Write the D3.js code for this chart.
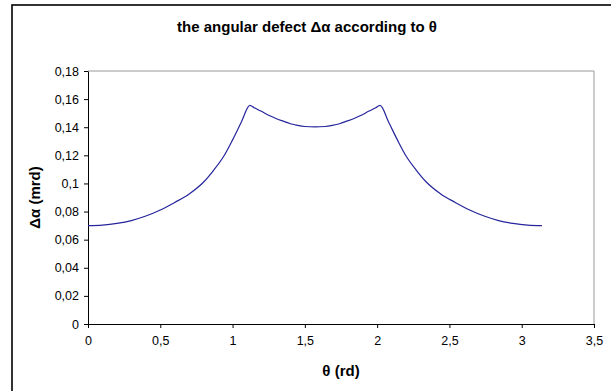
<!DOCTYPE html>
<html lang="en">
<head>
    <meta charset="UTF-8">
    <title>angular defect</title>
    <style>
        body { margin: 0; background: #fff; }
        text { font-family: Arial, "Liberation Sans", sans-serif; }
        .tick-label { font-size: 12.5px; fill: #000; }
        .axis-title { font-size: 15px; font-weight: bold; }
    </style>
</head>
<body>
    <div id="chart"></div>

    <script src="https://d3js.org/d3.v7.min.js"></script>
    <script>
        const width = 611;
        const height = 391;

        // theta (rd) and angular defect (mrd)
        const theta = [0, 0.1, 0.2, 0.3, 0.4, 0.5, 0.6, 0.7, 0.8, 0.87, 0.94, 1.0, 1.06, 1.12,
            1.15, 1.2, 1.25, 1.3, 1.35, 1.4, 1.45, 1.5, 1.57,
            1.64, 1.69, 1.74, 1.79, 1.84, 1.89, 1.94, 1.99, 2.02,
            2.08, 2.14, 2.2, 2.27, 2.34, 2.44, 2.54, 2.64, 2.74, 2.84, 2.94, 3.04, 3.14];
        const defect = [0.0700, 0.0704, 0.0716, 0.0736, 0.0768, 0.0811, 0.0865, 0.0925, 0.1010, 0.1095, 0.1195, 0.1310, 0.1435, 0.1555,
            0.1538, 0.1513, 0.1485, 0.1462, 0.1443, 0.1425, 0.1413, 0.1405, 0.1402,
            0.1405, 0.1413, 0.1425, 0.1443, 0.1462, 0.1485, 0.1513, 0.1538, 0.1555,
            0.1435, 0.1310, 0.1195, 0.1095, 0.1010, 0.0925, 0.0865, 0.0811, 0.0768, 0.0736, 0.0716, 0.0704, 0.0700];

        const xTicks = [0, 0.5, 1, 1.5, 2, 2.5, 3, 3.5];
        const yTicks = [0, 0.02, 0.04, 0.06, 0.08, 0.1, 0.12, 0.14, 0.16, 0.18];

        const title = "the angular defect \u0394\u03b1 according to \u03b8";
        const xTitle = "\u03b8 (rd)";
        const yTitle = "\u0394\u03b1 (mrd)";

        const frLocale = d3.formatLocale({ decimal: ",", thousands: " ", grouping: [3], currency: ["", "€"] });
        const fmt = frLocale.format("~g");

        const plot = { left: 88, top: 71, right: 594, bottom: 324 };

        const svg = d3.select("#chart")
            .append("svg")
            .attr("width", width)
            .attr("height", height);

        // outer chart border (runs off the right and bottom edges)
        svg.append("rect")
            .attr("x", 12)
            .attr("y", 5)
            .attr("width", 640)
            .attr("height", 420)
            .attr("fill", "#fff")
            .attr("stroke", "#000")
            .attr("stroke-width", 1.6);

        const x = d3.scaleLinear().domain([0, 3.5]).range([plot.left, plot.right]);
        const y = d3.scaleLinear().domain([0, 0.18]).range([plot.bottom, plot.top]);

        // gray plot area frame (top + right)
        svg.append("path")
            .attr("d", `M${plot.left},${plot.top}H${plot.right}V${plot.bottom}`)
            .attr("fill", "none")
            .attr("stroke", "#999")
            .attr("stroke-width", 1);

        const xAxis = svg.append("g")
            .attr("transform", `translate(0,${plot.bottom})`)
            .call(d3.axisBottom(x).tickValues(xTicks).tickFormat(fmt).tickSizeOuter(0).tickSizeInner(4).tickPadding(8));

        const yAxis = svg.append("g")
            .attr("transform", `translate(${plot.left},0)`)
            .call(d3.axisLeft(y).tickValues(yTicks).tickFormat(fmt).tickSizeOuter(0).tickSizeInner(4).tickPadding(5));

        [xAxis, yAxis].forEach(a => {
            a.select(".domain").attr("stroke", "#000").attr("stroke-width", 1);
            a.selectAll(".tick line").attr("stroke", "#000");
            a.selectAll(".tick text")
                .attr("class", "tick-label")
                .attr("font-family", null)
                .attr("font-size", null);
        });

        const line = d3.line()
            .x((d, i) => x(theta[i]))
            .y(d => y(d))
            .curve(d3.curveMonotoneX);

        svg.append("path")
            .datum(defect)
            .attr("d", line)
            .attr("fill", "none")
            .attr("stroke", "#25259c")
            .attr("stroke-width", 1.2);

        svg.append("text")
            .attr("x", 307)
            .attr("y", 32)
            .attr("text-anchor", "middle")
            .attr("class", "axis-title")
            .text(title);

        svg.append("text")
            .attr("x", (plot.left + plot.right) / 2)
            .attr("y", 376)
            .attr("text-anchor", "middle")
            .attr("class", "axis-title")
            .text(xTitle);

        svg.append("text")
            .attr("transform", `translate(40,${(plot.top + plot.bottom) / 2}) rotate(-90)`)
            .attr("text-anchor", "middle")
            .attr("class", "axis-title")
            .text(yTitle);
    </script>
</body>
</html>
